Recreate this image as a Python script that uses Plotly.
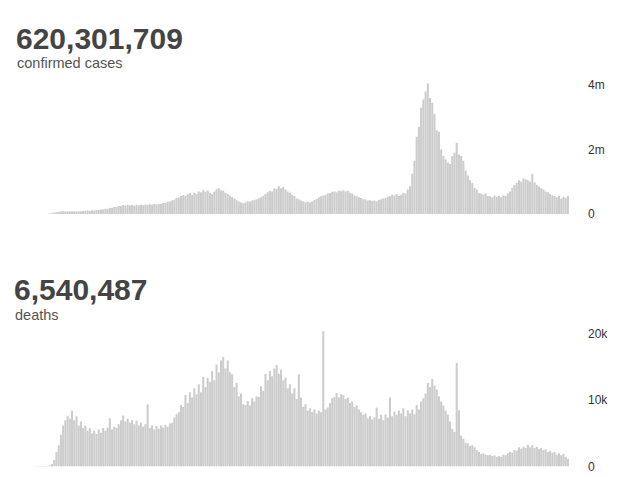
import plotly.graph_objects as go

# Daily confirmed cases (binned ~4 days per bar), in thousands
cases_k = [
    1, 2, 3, 3, 3, 2, 2, 4, 3, 2,
    3, 6, 15, 30, 50, 65, 75, 80, 85, 80,
    80, 88, 78, 90, 84, 92, 88, 98, 96, 108,
    104, 118, 112, 128, 126, 140, 142, 162, 168, 192,
    196, 218, 222, 248, 250, 282, 262, 288, 266, 284,
    262, 288, 270, 292, 276, 298, 282, 302, 288, 312,
    296, 322, 312, 342, 346, 384, 390, 424, 446, 502,
    512, 564, 590, 560, 616, 644, 588, 664, 620, 700,
    680, 740, 690, 740, 650, 620, 700, 780, 800, 740,
    720, 660, 620, 580, 530, 480, 430, 390, 360, 340,
    360, 400, 380, 420, 430, 460, 490, 520, 560, 620,
    680, 720, 700, 800, 780, 860, 800, 840, 760, 700,
    660, 600, 560, 480, 460, 420, 400, 370, 380, 360,
    390, 440, 470, 520, 550, 580, 600, 640, 650, 690,
    700, 680, 730, 710, 740, 700, 720, 660, 640, 580,
    560, 520, 500, 460, 450, 420, 430, 410, 420, 400,
    440, 460, 480, 500, 540, 560, 600, 580, 620, 560,
    600, 660, 640, 760, 860, 1250, 1650, 2400, 2700, 3300,
    3550, 3800, 4050, 3600, 3450, 3100, 2600, 2550, 2000, 1800,
    1700, 1600, 1550, 1800, 1900, 2200, 1850, 1800, 1650, 1350,
    1200, 1050, 960, 820, 760, 650, 640, 600, 640, 560,
    560, 520, 580, 540, 560, 520, 580, 560, 640, 700,
    820, 900, 960, 1050, 1000, 1100, 1080, 1050, 1000, 1250,
    980, 900, 850, 800, 760, 700, 680, 620, 580, 560,
    520, 560, 480, 540, 500, 560,
]

# Daily deaths (same bins), in thousands
deaths_k = [
    0.0, 0.0, 0.01, 0.02, 0.03, 0.05, 0.1, 0.1, 0.1, 0.08,
    0.1, 0.1, 0.2, 0.4, 1.0, 2.2, 3.2, 4.8, 6.2, 7.0,
    7.6, 7.2, 8.4, 7.0, 7.6, 6.2, 6.8, 5.8, 6.2, 5.4,
    5.8, 5.0, 5.4, 4.9, 5.6, 5.1, 5.8, 5.4, 5.9, 7.3,
    5.6, 6.0, 5.8, 6.4, 7.0, 7.7, 6.8, 7.2, 6.6, 7.0,
    6.4, 6.9, 6.2, 6.6, 6.0, 6.4, 9.4, 5.8, 6.2, 5.6,
    6.1, 5.7, 6.2, 5.9, 6.3, 6.0, 6.5, 6.6, 7.4, 7.9,
    8.2, 9.3, 9.0, 10.8, 9.6, 11.2, 10.4, 11.8, 10.9, 12.4,
    11.2, 13.5, 12.0, 13.4, 12.8, 14.4, 13.0, 15.4, 14.2, 16.0,
    16.5, 14.8, 16.0, 14.2, 13.9, 12.0, 12.6, 10.6, 11.0, 9.4,
    9.3, 9.9, 9.2, 10.3, 9.8, 10.6, 10.5, 12.1, 11.4, 14.0,
    13.0, 14.4, 13.6, 14.8, 15.3, 14.0, 14.6, 13.0, 13.4, 11.8,
    12.4, 11.0, 11.8, 10.2, 13.9, 10.4, 9.0, 9.4, 8.4, 8.8,
    8.2, 8.6, 8.0, 8.4, 8.2, 20.4, 8.6, 8.9, 9.6, 10.3,
    10.5, 11.1, 10.4, 10.9, 10.8, 10.2, 10.4, 9.6, 9.8, 9.0,
    9.2, 8.6, 8.2, 7.8, 8.0, 7.3, 7.6, 7.1, 7.4, 8.9,
    7.2, 7.8, 7.0, 7.9, 7.4, 10.4, 7.6, 8.3, 7.8, 8.4,
    8.0, 8.8, 7.6, 8.5, 8.0, 8.6, 7.9, 9.3, 8.6, 9.8,
    10.3, 11.0, 12.6, 12.0, 13.2, 12.2, 11.6, 10.6, 9.8, 9.2,
    8.4, 7.8, 6.8, 5.7, 5.2, 15.6, 8.5, 4.7, 4.2, 3.6,
    3.5, 3.1, 3.2, 2.9, 2.5, 2.2, 1.9, 2.0, 1.8, 1.7,
    1.8, 1.6, 1.7, 1.5, 1.6, 1.5, 1.8, 1.7, 2.0, 2.2,
    2.1, 2.5, 2.4, 2.9, 2.7, 3.0, 2.8, 3.3, 2.9, 3.2,
    2.8, 3.0, 2.6, 2.8, 2.5, 2.6, 2.2, 2.4, 2.1, 2.2,
    1.8, 2.0, 1.7, 1.9, 1.5, 1.2,
]

total_cases = "620,301,709"
total_deaths = "6,540,487"
cases_label = "confirmed cases"
deaths_label = "deaths"
cases_ticks = [0, 2_000_000, 4_000_000]
cases_ticktext = ["0", "2m", "4m"]
deaths_ticks = [0, 10_000, 20_000]
deaths_ticktext = ["0", "10k", "20k"]

cases = [v * 1000 for v in cases_k]
deaths = [v * 1000 for v in deaths_k]
idx = list(range(len(cases)))

W, H = 619, 477
L, R = 22, 619 - 569
BAR = "#cccccc"

def T(y):
    # vertical placement correction measured on the rendered picture
    return (y - 1.5) / 0.983

fig = go.Figure()
fig.add_trace(go.Bar(x=idx, y=cases, marker=dict(color=BAR, line=dict(width=0)),
                     xaxis="x", yaxis="y", hoverinfo="skip"))
fig.add_trace(go.Bar(x=idx, y=deaths, marker=dict(color=BAR, line=dict(width=0)),
                     xaxis="x2", yaxis="y2", hoverinfo="skip"))

def py(y):
    return 1 - y / H

def px(x):
    return (x - L) / (W - L - R)

axis_common = dict(showgrid=False, zeroline=False, showline=False, fixedrange=True)
tickfont = dict(family="Liberation Sans, Arial, sans-serif", size=12, color="#333")

c_bot, c_top, c_4m = T(214), T(80), T(84.7)
d_bot, d_top, d_20k = T(467), T(326), T(334)
c_max = (c_bot - c_top) / ((c_bot - c_4m) / 4e6)
d_max = (d_bot - d_top) / ((d_bot - d_20k) / 2e4)

fig.update_layout(
    width=W, height=H,
    margin=dict(l=L, r=R, t=0, b=0),
    paper_bgcolor="white", plot_bgcolor="white",
    showlegend=False, bargap=0.08,
    xaxis=dict(domain=[0, 1], range=[-0.5, len(idx) - 0.5], showticklabels=False,
               ticks="", anchor="y", **axis_common),
    xaxis2=dict(domain=[0, 1], range=[-0.5, len(idx) - 0.5], showticklabels=False,
                ticks="", anchor="y2", **axis_common),
    yaxis=dict(domain=[py(c_bot), py(c_top)], range=[0, c_max], side="right",
               tickvals=cases_ticks, ticktext=cases_ticktext, ticks="",
               ticklabelstandoff=18, tickfont=tickfont, anchor="x", **axis_common),
    yaxis2=dict(domain=[py(d_bot), py(d_top)], range=[0, d_max], side="right",
                tickvals=deaths_ticks, ticktext=deaths_ticktext, ticks="",
                ticklabelstandoff=18, tickfont=tickfont, anchor="x2", **axis_common),
)

def ann(text, x, ytop, size, bold, color):
    fig.add_annotation(
        text=f"<b>{text}</b>" if bold else text,
        xref="paper", yref="paper",
        x=px(x), y=py(ytop),
        xanchor="left", yanchor="top", showarrow=False,
        font=dict(family="Liberation Sans, Arial, sans-serif", size=size, color=color),
        borderpad=0,
    )

ann(total_cases, 15, T(27) - 6.7, 30, True, "#444")
ann(cases_label, 16, T(57) - 3.5, 14.5, False, "#555")
ann(total_deaths, 12.5, T(279) - 6.7, 30, True, "#444")
ann(deaths_label, 13.5, T(310) - 3.5, 14.5, False, "#555")

fig.write_html(
    "out.html",
    config={"displayModeBar": False, "staticPlot": True},
    post_script="document.body.style.margin='0';document.body.style.overflow='hidden';",
)
